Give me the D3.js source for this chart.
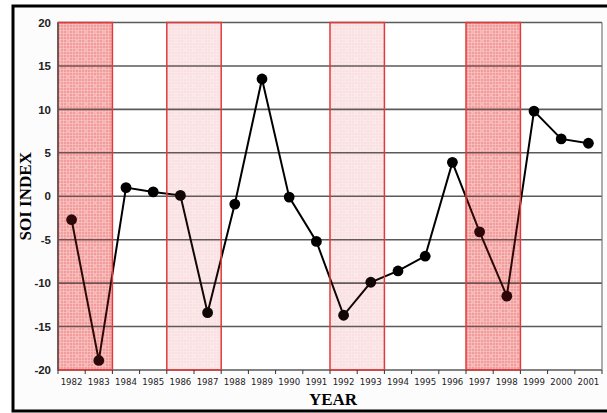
<!DOCTYPE html>
<html>
<head>
<meta charset="utf-8">
<script src="https://cdn.jsdelivr.net/npm/d3@7"></script>
<style>
  html, body { margin: 0; padding: 0; background: #fff; }
  svg { display: block; }
</style>
</head>
<body>
<svg id="chart" width="607" height="413"></svg>
<script>
// Southern Oscillation Index, yearly, 1982–2001
const years = [1982, 1983, 1984, 1985, 1986, 1987, 1988, 1989, 1990, 1991,
               1992, 1993, 1994, 1995, 1996, 1997, 1998, 1999, 2000, 2001];
const soi = [-2.7, -18.9, 1.0, 0.5, 0.1, -13.4, -0.9, 13.5, -0.1, -5.2,
             -13.7, -9.9, -8.6, -6.9, 3.9, -4.1, -11.5, 9.8, 6.6, 6.1];
const yTicks = [20, 15, 10, 5, 0, -5, -10, -15, -20];
// El Niño periods: first year, last year, strong (true) or moderate (false)
const ninoStart = [1982, 1986, 1992, 1997];
const ninoEnd   = [1983, 1987, 1993, 1998];
const ninoStrong = [true, false, false, true];

const svg = d3.select("#chart");
const W = 607, H = 413;
const m = { left: 58, right: 5, top: 22.5, bottom: 43 };
const x0 = m.left, x1 = W - m.right, y0 = m.top, y1 = H - m.bottom;

const x = d3.scaleBand().domain(years).range([x0, x1]).padding(0);
const y = d3.scaleLinear().domain([-20, 20]).range([y1, y0]);

// faint page tint and outer frame
svg.append("rect").attr("x", 13).attr("y", 6).attr("width", 600).attr("height", 405)
  .attr("fill", "#fdfcfd").attr("stroke", "#000").attr("stroke-width", 3);
svg.append("rect").attr("x", x0).attr("y", y0).attr("width", x1 - x0).attr("height", y1 - y0)
  .attr("fill", "#fff");

// hatch pattern for the shaded periods
const defs = svg.append("defs");
function makePattern(id, base, lineAlpha) {
  const p = defs.append("pattern").attr("id", id).attr("patternUnits", "userSpaceOnUse")
    .attr("width", 9).attr("height", 9);
  p.append("rect").attr("width", 9).attr("height", 9).attr("fill", base);
  [0, 3, 6].forEach(o => {
    p.append("rect").attr("x", 0).attr("y", o).attr("width", 9).attr("height", 0.8)
      .attr("fill", `rgba(255,255,255,${lineAlpha})`);
    p.append("rect").attr("x", o).attr("y", 0).attr("width", 0.8).attr("height", 9)
      .attr("fill", `rgba(255,255,255,${lineAlpha})`);
  });
  p.append("rect").attr("x", 4.3).attr("y", 4.3).attr("width", 1.4).attr("height", 1.4)
    .attr("fill", "rgba(255,255,255,0.95)");
}
makePattern("strong", "rgba(238,80,80,0.4)", 0.6);
makePattern("mild", "rgba(240,120,120,0.14)", 0.4);

const bandX = d => x(d);
const bandW = (d, i) => x(ninoEnd[i]) + x.bandwidth() - x(d);

// hatched backgrounds of the El Niño periods
svg.append("g").selectAll("rect").data(ninoStart).join("rect")
  .attr("x", bandX).attr("y", y(20))
  .attr("width", bandW).attr("height", y(-20) - y(20))
  .attr("fill", (d, i) => ninoStrong[i] ? "url(#strong)" : "url(#mild)");

// gridlines
svg.append("g").selectAll("line").data(yTicks).join("line")
  .attr("x1", x0).attr("x2", x1)
  .attr("y1", d => y(d)).attr("y2", d => y(d))
  .attr("stroke", "#5a5a5a").attr("stroke-width", 1.6);

// right frame
svg.append("line").attr("x1", x1).attr("x2", x1).attr("y1", y0).attr("y2", y1)
  .attr("stroke", "#777").attr("stroke-width", 1.2);

// SOI line and markers
const line = d3.line().x((d, i) => x(years[i]) + x.bandwidth() / 2).y(d => y(d));
svg.append("path").datum(soi).attr("d", line)
  .attr("fill", "none").attr("stroke", "#000").attr("stroke-width", 2);
svg.append("g").selectAll("circle").data(soi).join("circle")
  .attr("cx", (d, i) => x(years[i]) + x.bandwidth() / 2)
  .attr("cy", d => y(d)).attr("r", 5.4).attr("fill", "#000");

// translucent tint over each period, with red outline
svg.append("g").selectAll("rect").data(ninoStart).join("rect")
  .attr("x", bandX).attr("y", y(20))
  .attr("width", bandW).attr("height", y(-20) - y(20))
  .attr("fill", (d, i) => ninoStrong[i] ? "rgba(225,40,40,0.2)" : "rgba(220,90,90,0.08)")
  .attr("stroke", "#e23a3a").attr("stroke-width", 1.5);

// left axis line
svg.append("line").attr("x1", x0).attr("x2", x0).attr("y1", y0).attr("y2", y1)
  .attr("stroke", "#555").attr("stroke-width", 1.6);

// y tick labels
svg.append("g").selectAll("text").data(yTicks).join("text")
  .attr("x", 51).attr("y", d => y(d)).attr("dy", "0.36em")
  .attr("text-anchor", "end")
  .attr("font-family", "Liberation Sans, Arial, sans-serif")
  .attr("font-weight", "bold").attr("font-size", 11.5).attr("fill", "#222")
  .text(d => d);

// x axis: ticks at year boundaries, labels centred in each year
const bounds = years.map(yr => x(yr)).concat([x1]);
svg.append("g").selectAll("line").data(bounds).join("line")
  .attr("x1", d => d).attr("x2", d => d).attr("y1", y1).attr("y2", y1 + 4)
  .attr("stroke", "#333").attr("stroke-width", 1);
svg.append("g").selectAll("text").data(years).join("text")
  .attr("x", d => x(d) + x.bandwidth() / 2).attr("y", y1 + 15)
  .attr("text-anchor", "middle")
  .attr("font-family", "DejaVu Sans, Verdana, sans-serif")
  .attr("font-size", 8.6).attr("fill", "#222")
  .text(d => d);

// axis titles
svg.append("text").attr("x", (x0 + x1) / 2 + 3).attr("y", 405)
  .attr("text-anchor", "middle")
  .attr("font-family", "Liberation Serif, Times New Roman, serif")
  .attr("font-weight", "bold").attr("font-size", 17).text("YEAR");
svg.append("text").attr("transform", `translate(31,${(y0 + y1) / 2}) rotate(-90)`)
  .attr("text-anchor", "middle")
  .attr("font-family", "Liberation Serif, Times New Roman, serif")
  .attr("font-weight", "bold").attr("font-size", 17).text("SOI INDEX");
</script>
</body>
</html>
